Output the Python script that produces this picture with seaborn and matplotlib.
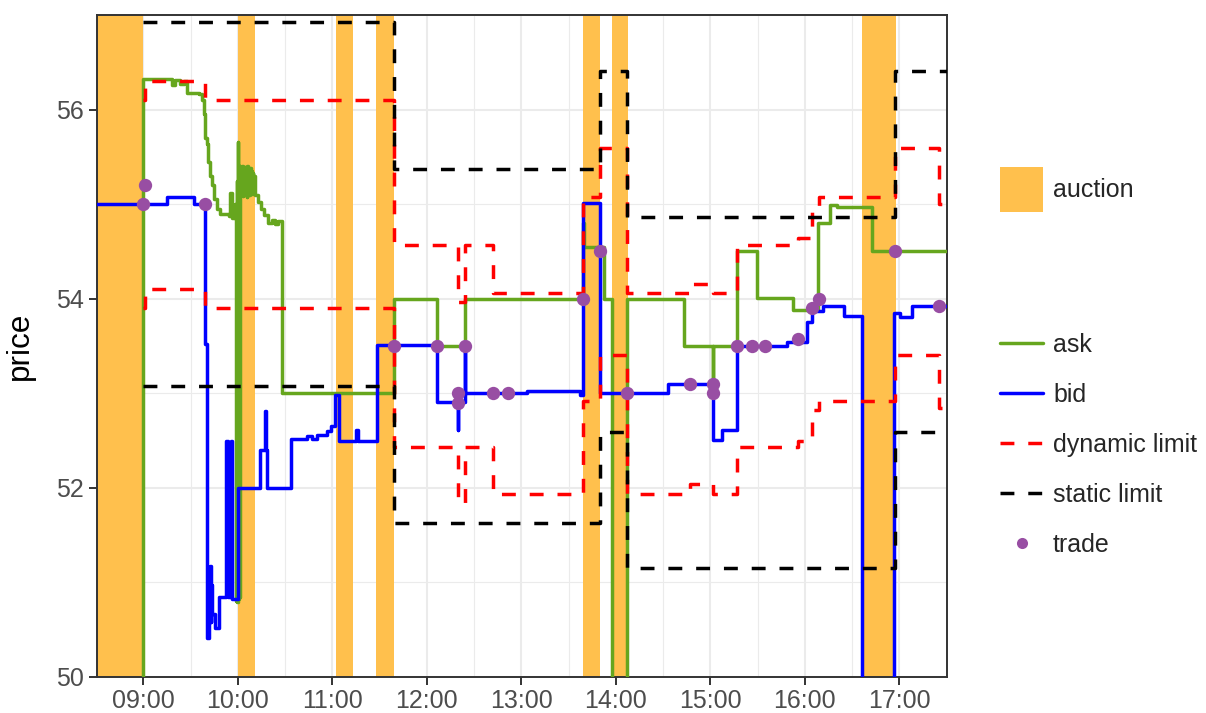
import matplotlib
matplotlib.use("Agg")
import matplotlib.pyplot as plt
import matplotlib.dates as mdates
from matplotlib.lines import Line2D
from matplotlib.patches import Patch
import pandas as pd
import seaborn as sns

# ---------------------------------------------------------------- data
DAY = "2024-03-15 "

auction_start = ["08:00:00", "10:00:00", "11:02:24", "11:28:00", "13:39:24", "13:57:24", "16:36:12"]
auction_end = ["09:00:00", "10:10:40", "11:13:18", "11:39:00", "13:50:00", "14:08:00", "16:57:48"]

bid_time = [
    "08:00:00", "09:15:00", "09:32:00", "09:39:24", "09:40:27", "09:41:24", "09:42:10",
    "09:42:48", "09:43:11", "09:43:37", "09:45:43", "09:48:16", "09:52:42", "09:53:28",
    "09:55:53", "09:56:31", "10:00:08", "10:14:18", "10:17:20", "10:18:00", "10:18:40",
    "10:34:00", "10:43:57", "10:47:08", "10:50:18", "10:56:40", "10:59:22", "11:01:44",
    "11:04:16", "11:15:04", "11:16:20", "11:28:24", "12:06:18", "12:19:36", "12:19:50",
    "12:24:12", "12:24:30", "13:03:26", "13:37:18", "13:39:24", "13:50:00", "14:33:12",
    "15:01:42", "15:07:18", "15:16:36", "15:48:34", "16:01:16", "16:04:36", "16:11:36",
    "16:24:30", "16:36:12", "16:56:18", "17:00:30", "17:07:54", "17:30:00",
]
bid_price = [
    55.00, 55.08, 55.00, 53.52, 50.41, 50.99, 51.17,
    50.58, 50.97, 50.67, 50.52, 50.85, 52.50, 50.85,
    52.50, 50.83, 52.00, 52.40, 52.81, 52.40, 52.00,
    52.52, 52.55, 52.52, 52.56, 52.60, 52.65, 52.98,
    52.50, 52.61, 52.50, 53.51, 52.91, 52.61, 52.91,
    53.50, 53.00, 53.02, 52.98, 55.01, 53.00, 53.10,
    52.51, 52.61, 53.50, 53.54, 53.75, 53.87, 53.92,
    53.82, 0.00, 53.85, 53.81, 53.92, 53.92,
]

ask_time = [
    "08:00:00", "09:00:00", "09:18:13", "09:20:08", "09:23:18", "09:25:50", "09:27:45",
    "09:35:11", "09:37:16", "09:38:21", "09:38:52", "09:40:27", "09:41:05", "09:42:21",
    "09:43:37", "09:44:54", "09:46:48", "09:48:42", "09:54:13", "09:55:14", "09:56:20",
    "09:58:14", "09:58:50", "09:59:15", "09:59:35", "09:59:55", "10:00:15", "10:00:35",
    "10:00:55", "10:01:15", "10:01:35", "10:01:55", "10:02:15", "10:02:40", "10:03:05",
    "10:03:30", "10:03:55", "10:04:20", "10:04:45", "10:05:10", "10:05:35", "10:06:00",
    "10:06:25", "10:06:50", "10:07:15", "10:07:40", "10:08:05", "10:08:30", "10:08:55",
    "10:09:20", "10:09:45", "10:10:10", "10:10:35", "10:10:55", "10:12:50", "10:14:44",
    "10:16:38", "10:19:10", "10:21:43", "10:23:37", "10:25:32", "10:28:05", "11:39:00",
    "12:06:18", "12:24:12", "13:39:24", "13:39:40", "13:52:32", "13:57:26", "14:07:20",
    "14:43:20", "15:01:42", "15:01:50", "15:16:48", "15:29:42", "15:52:36", "16:08:24",
    "16:16:06", "16:20:30", "16:42:42", "17:30:00",
]
ask_price = [
    0.00, 56.32, 56.26, 56.31, 56.27, 56.30, 56.18,
    56.16, 56.10, 55.95, 55.70, 55.64, 55.45, 55.30,
    55.20, 55.05, 54.95, 54.90, 54.87, 55.12, 54.85,
    55.00, 50.80, 55.25, 50.79, 55.66, 50.82, 55.35,
    50.85, 55.40, 55.10, 55.38, 55.12, 55.40, 55.09,
    55.36, 55.11, 55.39, 55.10, 55.37, 55.08, 55.40,
    55.12, 55.36, 55.10, 55.38, 55.14, 55.35, 55.11,
    55.33, 55.12, 55.30, 55.15, 55.10, 55.02, 54.95,
    54.88, 54.80, 54.83, 54.79, 54.82, 53.00, 54.00,
    53.50, 54.00, 54.80, 54.55, 54.00, 0.00, 54.00,
    53.50, 53.10, 53.50, 54.50, 54.01, 53.88, 54.80,
    54.99, 54.97, 54.50, 54.50,
]

dyn_time = [
    "09:00:00", "09:01:00", "09:39:24", "11:39:00", "12:19:36", "12:19:40", "12:24:12",
    "12:42:12", "13:39:24", "13:50:00", "14:07:20", "14:47:10", "15:01:42", "15:01:46",
    "15:16:48", "15:55:54", "16:04:24", "16:09:00", "16:57:00", "17:25:24", "17:30:00",
]
dyn_upper = [
    56.10, 56.30, 56.10, 54.57, 54.06, 53.96, 54.57,
    54.06, 55.08, 55.59, 54.06, 54.16, 54.16, 54.06,
    54.57, 54.64, 54.98, 55.08, 55.59, 55.00, 55.00,
]
dyn_lower = [
    53.90, 54.10, 53.90, 52.43, 51.94, 51.84, 52.43,
    51.94, 52.92, 53.41, 51.94, 52.04, 52.04, 51.94,
    52.43, 52.50, 52.82, 52.92, 53.41, 52.84, 52.84,
]

static_time = ["09:00:00", "11:39:00", "13:50:00", "14:07:20", "16:57:00", "17:30:00"]
static_upper = [56.93, 55.37, 56.41, 54.86, 56.41, 56.41]
static_lower = [53.08, 51.63, 52.59, 51.15, 52.59, 52.59]

trade_time = [
    "09:00:00", "09:01:00", "09:39:24", "11:39:00", "12:06:18", "12:19:36", "12:19:40",
    "12:24:12", "12:42:12", "12:51:48", "13:39:24", "13:50:00", "14:07:20", "14:47:10",
    "15:01:42", "15:01:46", "15:16:48", "15:26:18", "15:34:42", "15:55:54", "16:04:24",
    "16:09:00", "16:57:00", "17:25:24",
]
trade_price = [
    55.00, 55.20, 55.00, 53.50, 53.50, 53.00, 52.90,
    53.50, 53.00, 53.00, 54.00, 54.50, 53.00, 53.10,
    53.10, 53.00, 53.50, 53.50, 53.50, 53.57, 53.90,
    54.00, 54.50, 53.92,
]

# ---------------------------------------------------------------- style
C_AUCTION = "#FFC04D"
C_ASK = "#66A61E"
C_BID = "#0000FF"
C_DYN = "#FF0000"
C_STATIC = "#000000"
C_TRADE = "#984EA3"
DASH = (0, (4, 4))
LW = 2.5


def to_dt(times):
    return pd.to_datetime([DAY + t for t in times])


sns.set_theme(style="white")
plt.rcParams["font.family"] = ["Liberation Sans", "DejaVu Sans"]

fig = plt.figure(figsize=(12.06, 7.13), dpi=100)
ax = fig.add_axes([97 / 1206, 36 / 713, (946.7 - 97) / 1206, (677 - 15) / 713])

# auction periods
for s, e in zip(to_dt(auction_start), to_dt(auction_end)):
    ax.axvspan(s, e, color=C_AUCTION, lw=0, zorder=1)

step_kw = dict(drawstyle="steps-post", estimator=None, sort=False, ax=ax, legend=False)

ask_df = pd.DataFrame({"time": to_dt(ask_time), "price": ask_price})
bid_df = pd.DataFrame({"time": to_dt(bid_time), "price": bid_price})
sns.lineplot(data=ask_df, x="time", y="price", color=C_ASK, lw=LW, zorder=3, **step_kw)
sns.lineplot(data=bid_df, x="time", y="price", color=C_BID, lw=LW, zorder=3, **step_kw)

dyn_df = pd.DataFrame({"time": to_dt(dyn_time), "upper": dyn_upper, "lower": dyn_lower})
for col in ["upper", "lower"]:
    sns.lineplot(data=dyn_df, x="time", y=col, color=C_DYN, lw=LW, ls=DASH, zorder=4, **step_kw)

static_df = pd.DataFrame({"time": to_dt(static_time), "upper": static_upper, "lower": static_lower})
for col in ["upper", "lower"]:
    sns.lineplot(data=static_df, x="time", y=col, color=C_STATIC, lw=LW, ls=DASH, zorder=4, **step_kw)

trade_df = pd.DataFrame({"time": to_dt(trade_time), "price": trade_price})
sns.scatterplot(data=trade_df, x="time", y="price", color=C_TRADE, s=92, linewidth=0,
                zorder=5, ax=ax, legend=False)

# ---------------------------------------------------------------- axes
ax.set_xlim(to_dt(["08:30:36"])[0], to_dt(["17:30:00"])[0])
ax.set_ylim(50, 57)
ax.xaxis.set_major_locator(mdates.HourLocator(byhour=range(9, 18)))
ax.xaxis.set_major_formatter(mdates.DateFormatter("%H:%M"))
ax.xaxis.set_minor_locator(mdates.MinuteLocator(byminute=[30]))
ax.set_yticks([50, 52, 54, 56])
ax.set_yticks([51, 53, 55, 57], minor=True)

ax.set_axisbelow(True)
ax.grid(which="major", color="#EBEBEB", lw=1.5)
ax.grid(which="minor", color="#EBEBEB", lw=0.8)
ax.tick_params(which="major", length=5.8, width=1.4, color="#333333",
               labelsize=18, labelcolor="#4D4D4D", bottom=True, left=True)
ax.tick_params(axis="x", which="major", pad=2.5)
ax.tick_params(axis="y", which="major", pad=3.6)
ax.tick_params(which="minor", length=0)
for sp in ax.spines.values():
    sp.set_color("#333333")
    sp.set_linewidth(1.4)

ax.set_xlabel("")
ax.set_ylabel("price", fontsize=22.7, color="black", labelpad=15)

# ---------------------------------------------------------------- legends
leg1 = fig.legend(
    handles=[Patch(facecolor=C_AUCTION, edgecolor="none", label="auction")],
    loc="upper left", bbox_to_anchor=(1000 / 1206, 1 - 167 / 713),
    frameon=False, fontsize=18, handlelength=1.72, handleheight=2.4,
    handletextpad=0.4, borderpad=0, borderaxespad=0,
)
line_handles = [
    Line2D([], [], color=C_ASK, lw=LW, label="ask"),
    Line2D([], [], color=C_BID, lw=LW, label="bid"),
    Line2D([], [], color=C_DYN, lw=LW, ls=DASH, label="dynamic limit"),
    Line2D([], [], color=C_STATIC, lw=LW, ls=DASH, label="static limit"),
    Line2D([], [], color=C_TRADE, ls="none", marker="o", markersize=8,
           markeredgewidth=0, label="trade"),
]
leg2 = fig.legend(
    handles=line_handles, loc="upper left", bbox_to_anchor=(1000 / 1206, 1 - 333 / 713),
    frameon=False, fontsize=18, handlelength=1.72, handletextpad=0.4,
    labelspacing=1.04, borderpad=0, borderaxespad=0,
)

fig.savefig("out.png", dpi=100)
